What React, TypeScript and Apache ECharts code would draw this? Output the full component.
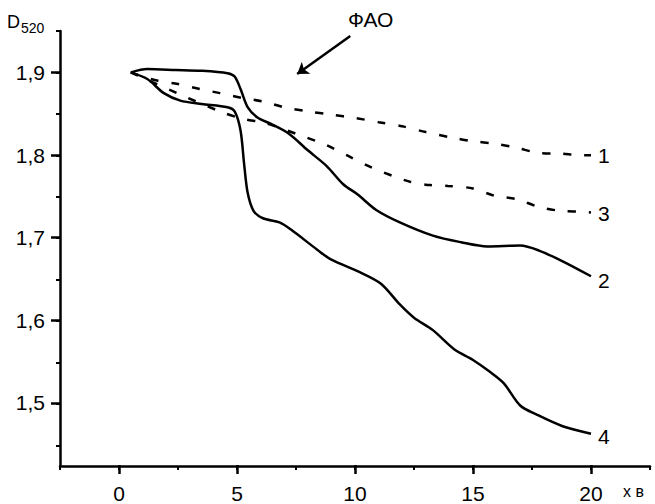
import React, { useEffect, useRef } from 'react';
import * as echarts from 'echarts';

// ---- data ----
const curve1: [number, number][] = [
  [0.5, 1.9], [1.0, 1.895], [1.65, 1.89], [2.5, 1.886], [3.43, 1.88], [4.28, 1.875],
  [5.25, 1.869], [6.1, 1.865], [7.0, 1.858], [8.0, 1.853], [9.0, 1.849], [10.0, 1.845],
  [11.0, 1.84], [12.0, 1.835], [13.0, 1.828], [14.15, 1.821], [15.0, 1.817], [15.93, 1.814],
  [16.86, 1.809], [17.75, 1.803], [18.69, 1.802], [19.62, 1.8], [20.0, 1.8],
];
const curve2: [number, number][] = [
  [0.5, 1.9], [1.2, 1.904], [2.4, 1.903], [3.5, 1.902], [4.6, 1.899], [4.9, 1.895],
  [5.15, 1.88], [5.45, 1.858], [5.85, 1.846], [6.5, 1.837], [7.2, 1.826], [8.0, 1.806],
  [8.8, 1.787], [9.5, 1.765], [10.1, 1.753], [10.9, 1.734], [11.9, 1.719], [13.3, 1.703],
  [14.5, 1.695], [15.6, 1.69], [17.0, 1.691], [17.8, 1.685], [18.8, 1.672], [20.0, 1.654],
];
const curve3: [number, number][] = [
  [0.5, 1.9], [2.46, 1.875], [4.36, 1.852], [5.25, 1.844], [6.19, 1.839], [7.5, 1.826],
  [8.81, 1.812], [9.79, 1.798], [10.72, 1.785], [11.61, 1.775], [12.33, 1.768], [13.18, 1.764],
  [13.94, 1.763], [15.0, 1.76], [15.93, 1.751], [16.86, 1.747], [17.75, 1.738], [18.69, 1.733],
  [19.62, 1.732], [20.0, 1.731],
];
const curve4: [number, number][] = [
  [0.5, 1.9], [1.2, 1.892], [1.9, 1.875], [2.6, 1.866], [3.5, 1.862], [4.6, 1.858],
  [4.9, 1.853], [5.15, 1.83], [5.3, 1.79], [5.45, 1.755], [5.7, 1.733], [6.1, 1.724],
  [6.8, 1.719], [7.3, 1.71], [8.4, 1.686], [9.0, 1.674], [10.2, 1.659], [11.1, 1.645],
  [11.9, 1.62], [12.5, 1.604], [13.3, 1.589], [14.2, 1.566], [15.0, 1.553], [15.7, 1.539],
  [16.3, 1.525], [17.0, 1.498], [17.7, 1.487], [18.8, 1.473], [20.0, 1.464],
];
const curveNames = ['1', '2', '3', '4'];
const arrowFrom: [number, number] = [9.8, 1.944];
const arrowTo: [number, number] = [7.55, 1.898];

// ---- layout ----
const W = 655, H = 504;
const L = 60, R = 650, T = 31, B = 466;
const X_MIN = -2.5, X_MAX = 22.5, Y_MIN = 1.425, Y_MAX = 1.95;
const px = (v: number) => L + ((v - X_MIN) / (X_MAX - X_MIN)) * (R - L);
const py = (v: number) => B - ((v - Y_MIN) / (Y_MAX - Y_MIN)) * (B - T);
const FONT = '"Liberation Sans", Arial, sans-serif';
const BLACK = '#000';

export default function App() {
  const ref = useRef<HTMLDivElement>(null);
  useEffect(() => {
    document.body.style.margin = '0';
    if (!ref.current) return;
    const chart = echarts.init(ref.current, undefined, { renderer: 'svg' });
    const lineSeries = (name: string, data: [number, number][], dashed: boolean, dy: number, extra: any = {}) => ({
      type: 'line',
      name,
      xAxisIndex: 0,
      yAxisIndex: 0,
      data,
      symbol: 'none',
      smooth: 0.3,
      clip: false,
      lineStyle: { color: BLACK, width: 2.5, type: dashed ? [8, 13] : 'solid' },
      endLabel: {
        show: true,
        formatter: name,
        color: BLACK,
        fontSize: 21,
        fontFamily: FONT,
        distance: 7,
        offset: [0, dy],
      },
      ...extra,
    });
    chart.setOption({
      animation: false,
      backgroundColor: '#fff',
      grid: [
        { left: L, right: W - R, top: T, bottom: H - B },
        { left: px(0), right: W - px(20), top: py(1.9), bottom: H - py(1.5) },
        { left: L, right: W - R, top: py(1.95), bottom: H - py(1.45) },
      ],
      xAxis: [
        {
          type: 'value', gridIndex: 0, min: X_MIN, max: X_MAX, interval: 2.5,
          axisLine: { show: true, onZero: false, lineStyle: { color: BLACK, width: 2.5 } },
          axisTick: { show: true, length: 4, lineStyle: { color: BLACK, width: 2 } },
          axisLabel: { show: false }, splitLine: { show: false },
        },
        {
          type: 'value', gridIndex: 1, min: 0, max: 20, interval: 5, offset: B - py(1.5),
          axisLine: { show: false, onZero: false },
          axisTick: { show: true, length: 9, lineStyle: { color: BLACK, width: 2.5 } },
          axisLabel: { show: true, color: BLACK, fontSize: 21, fontFamily: FONT, margin: 18 },
          splitLine: { show: false },
        },
        {
          type: 'value', gridIndex: 2, min: X_MIN, max: X_MAX, show: false,
          axisLine: { onZero: false },
        },
      ],
      yAxis: [
        {
          type: 'value', gridIndex: 0, min: Y_MIN, max: Y_MAX,
          axisLine: { show: true, onZero: false, lineStyle: { color: BLACK, width: 2.5 } },
          axisTick: { show: false }, axisLabel: { show: false }, splitLine: { show: false },
        },
        {
          type: 'value', gridIndex: 1, min: 1.5, max: 1.9, interval: 0.1, offset: px(0) - L,
          axisLine: { show: false, onZero: false },
          axisTick: { show: true, length: 9, lineStyle: { color: BLACK, width: 2.5 } },
          axisLabel: {
            show: true, color: BLACK, fontSize: 21, fontFamily: FONT, margin: 15,
            formatter: (v: number) => v.toFixed(1).replace('.', ','),
          },
          splitLine: { show: false },
        },
        {
          type: 'value', gridIndex: 2, min: 1.45, max: 1.95, interval: 0.05,
          axisLine: { show: false, onZero: false },
          axisTick: { show: true, length: 4, lineStyle: { color: BLACK, width: 2 } },
          axisLabel: { show: false }, splitLine: { show: false },
        },
      ],
      series: [
        lineSeries(curveNames[0], curve1, true, 0),
        lineSeries(curveNames[1], curve2, false, 4, {
          markLine: {
            silent: true,
            symbol: ['none', 'arrow'],
            symbolSize: 11,
            label: { show: false },
            lineStyle: { color: BLACK, width: 2.5, type: 'solid' },
            data: [[{ coord: arrowFrom }, { coord: arrowTo }]],
          },
        }),
        lineSeries(curveNames[2], curve3, true, 1),
        lineSeries(curveNames[3], curve4, false, 3),
      ],
      graphic: [
        { type: 'text', x: 7, y: 21.5, style: { text: 'D', fontSize: 18, fontFamily: FONT, fill: BLACK, verticalAlign: 'middle' } },
        { type: 'text', x: 21, y: 28, style: { text: '520', fontSize: 14, fontFamily: FONT, fill: BLACK, verticalAlign: 'middle' } },
        { type: 'text', x: 348, y: 19.5, style: { text: 'ФАО', fontSize: 21, fontFamily: FONT, fill: BLACK, verticalAlign: 'middle' } },
        { type: 'text', x: 623, y: 491, style: { text: 'x в', fontSize: 16, fontFamily: FONT, fill: BLACK, verticalAlign: 'middle' } },
      ],
    });
    return () => chart.dispose();
  }, []);
  return <div ref={ref} style={{ width: W, height: H }} />;
}
